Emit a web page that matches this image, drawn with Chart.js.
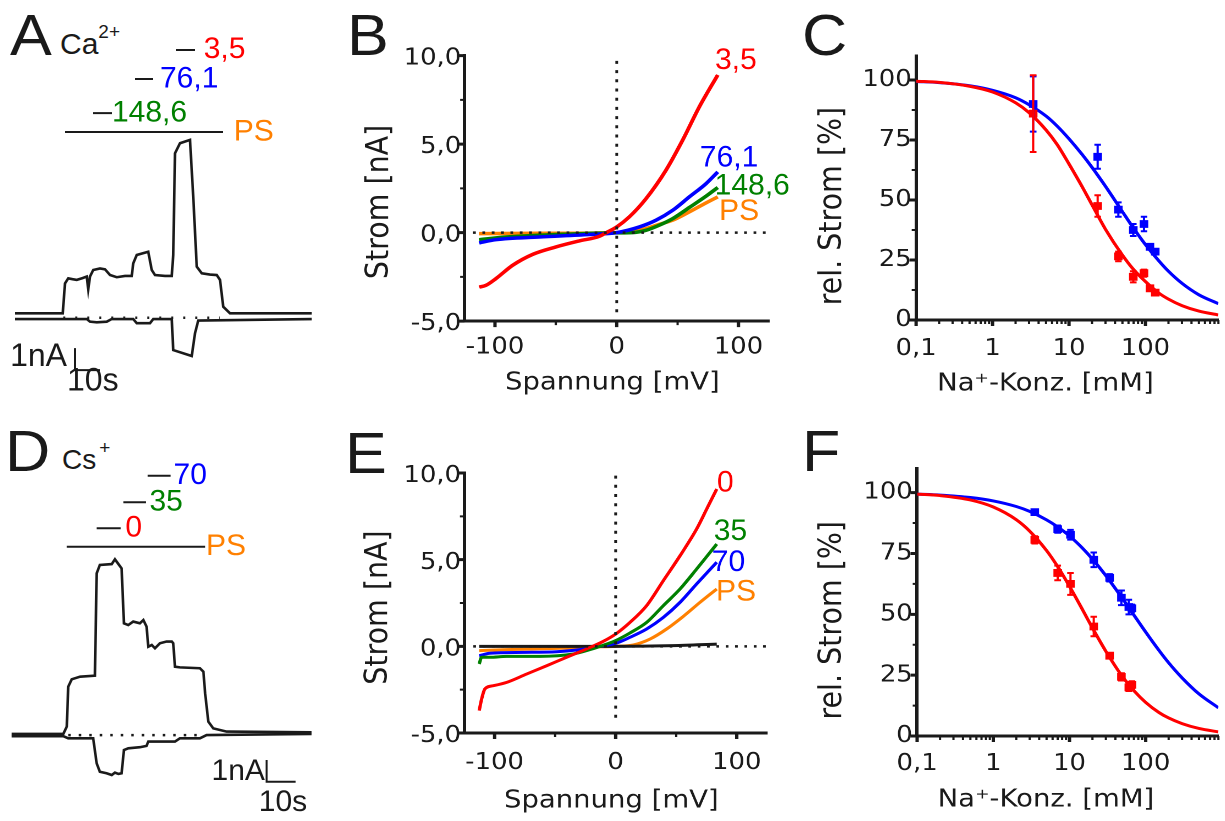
<!DOCTYPE html>
<html lang="de">
<head>
<meta charset="utf-8">
<title>Na+-Block durch Ca2+ und Cs+</title>
<script src="https://cdn.jsdelivr.net/npm/chart.js"></script>
<style>
  body { margin: 0; width: 1225px; height: 821px; background: #fff; position: relative; overflow: hidden;
         font-family: "Liberation Sans", Arial, sans-serif; color: #1a1a1a; }
  .plot { position: absolute; transform-origin: 0 0; }
  .letter { position: absolute; font-size: 57px; line-height: 1; transform: scaleX(1.1); transform-origin: 0 0; }
  .ion { position: absolute; line-height: 1; white-space: nowrap; }
  .ion sup { font-size: 19px; vertical-align: baseline; position: relative; }
</style>
</head>
<body>
<div class="letter" style="left:10px;top:7px">A</div>
<div class="letter" style="left:347px;top:7px">B</div>
<div class="letter" style="left:802px;top:7px">C</div>
<div class="letter" style="left:5px;top:423px">D</div>
<div class="letter" style="left:345px;top:425px">E</div>
<div class="letter" style="left:802px;top:423px">F</div>
<div class="ion" style="left:60px;top:29px;font-size:30px">Ca<sup style="top:-16px">2+</sup></div>
<div class="ion" style="left:62px;top:446px;font-size:28px">Cs<sup style="top:-15px;margin-left:3px">+</sup></div>

<div class="plot" id="pA"></div>
<div class="plot" id="pB"></div>
<div class="plot" id="pC"></div>
<div class="plot" id="pD"></div>
<div class="plot" id="pE"></div>
<div class="plot" id="pF"></div>

<script>
// ---------- A: current trace, Ca2+ (time in s, current in nA) ----------
const caUpT = [0, 19.1, 20, 21.3, 23, 24.7, 27, 28.7, 29.3, 30, 31.3, 34, 36, 38, 40.7, 44, 46.7, 47.3, 48.7, 53.3, 54.7, 56, 60, 62.7, 63.3, 64, 66, 70, 71.3, 72.7, 74.7, 78, 80.7, 82, 83.3, 86, 118.7];
const caUpI = [0, 0, 1.36, 1.59, 1.55, 1.52, 1.6, 1.67, 1.09, 1.67, 1.97, 2.04, 2.0, 1.74, 1.64, 1.7, 1.7, 2.27, 2.65, 2.8, 1.97, 1.74, 1.7, 1.7, 2.65, 7.27, 7.73, 7.88, 5.3, 2.12, 1.82, 1.76, 1.74, 1.52, 0.3, 0, 0];
const caLoT = [0, 19.3, 28.7, 30, 32.7, 36.7, 38.7, 47.3, 48.7, 54, 55.3, 62.7, 63.3, 70.7, 72, 73.3, 118.7];
const caLoI = [-0.26, -0.26, -0.26, -0.38, -0.41, -0.38, -0.26, -0.26, -0.45, -0.45, -0.26, -0.26, -1.67, -1.94, -0.91, -0.33, -0.26];
const caSteps = ['148,6', '76,1', '3,5'];      // Ca2+ concentrations applied
const caStepOn = [31.2, 48, 64.4];
const caStepOff = [38.8, 55.2, 72];
const caPS = [20, 83.2];                        // PS application

// ---------- B: I/V curves, Ca2+ (mV, nA) ----------
const caRedV = [-112.9, -107.4, -99.2, -85.5, -69, -49.9, -30.7, -14.2, -9, 0, 10.4, 24.1, 40.5, 54.2, 67.9, 83];
const caRedI = [-3.08, -2.98, -2.6, -1.85, -1.23, -0.81, -0.47, -0.21, -0.02, 0.32, 0.89, 1.92, 3.53, 5.23, 7.11, 8.91];
const caBlueV = [-112.9, -99.2, -63.6, -22.5, 0, 18.6, 32.3, 46, 59.7, 73.4, 83];
const caBlueI = [-0.58, -0.4, -0.25, -0.11, 0, 0.32, 0.7, 1.26, 2.02, 2.77, 3.43];
const caGreenV = [-112.9, -91, -50, -9, 13, 24, 35, 46, 59.7, 73.4, 83];
const caGreenI = [-0.4, -0.25, -0.11, -0.02, 0, 0.13, 0.42, 0.79, 1.42, 2.06, 2.55];
const caOrangeV = [-112.9, -63.6, 0, 18.6, 35.1, 46, 59.7, 73.4, 83];
const caOrangeI = [-0.06, -0.04, 0, 0.13, 0.47, 0.7, 1.17, 1.68, 2.02];

// ---------- C: dose response, Ca2+ (mM Na+, %) ----------
const caNa = [3.4, 23.7, 44.2, 69.3, 95.6, 114.5, 134.3];
const caRelRed = [86, 47.5, 26.5, 18, 19.5, 13.2, 11.4];
const caErrRed = [16, 4.5, 2, 2.3, 1.5, 1, 1];
const caRelBlue = [90, 68, 46, 37.5, 40, 30.5, 28.5];
const caErrBlue = [11.5, 5, 3, 2.5, 3, 1, 1];
const fitNa = [0.1, 0.2, 0.5, 1, 2, 3, 5, 7, 10, 15, 20, 30, 50, 70, 100, 150, 200, 300, 500, 900];
const caFitRed = [99.5, 99.0, 97.4, 95.0, 90.5, 86.4, 79.2, 73.1, 65.0, 55.3, 48.0, 37.8, 27.0, 21.0, 16.0, 11.2, 8.7, 6.0, 3.7, 2.1];
const caFitBlue = [99.4, 98.9, 97.6, 95.7, 92.6, 89.7, 85.0, 80.8, 75.5, 68.8, 63.6, 55.7, 45.1, 38.2, 31.4, 24.6, 20.3, 15.3, 10.5, 6.8];

// ---------- D: current trace, Cs+ ----------
const csUpT = [0, 17.8, 19.0, 19.5, 20.7, 23.6, 28.7, 29.3, 30.4, 34.5, 35.6, 36.8, 37.9, 38.7, 40.2, 41.9, 44.2, 45.4, 46.5, 47.1, 48.3, 49.4, 51.1, 53.4, 55.2, 55.7, 56.3, 58.0, 64.9, 66.1, 66.7, 67.8, 69.5, 74.1, 103.4];
const csUpI = [0, 0, 0.34, 2.18, 2.52, 2.64, 2.69, 7.4, 7.79, 7.83, 8.05, 7.83, 7.63, 5.1, 5.02, 5.18, 5.1, 5.25, 4.95, 4.02, 4.1, 3.95, 4.18, 4.26, 4.26, 4.18, 3.1, 3.07, 3.03, 2.87, 1.87, 0.57, 0.26, 0.11, 0.08];
const csLoT = [0, 17.8, 19.5, 28.1, 29.3, 30.4, 32.7, 34.5, 35.6, 36.8, 37.9, 38.7, 40.2, 44.2, 46.5, 47.1, 51.1, 56.3, 58.0, 64.9, 67.2, 103.4];
const csLoI = [-0.1, -0.1, -0.2, -0.2, -1.35, -1.74, -1.81, -1.89, -1.78, -1.84, -1.81, -0.74, -0.66, -0.61, -0.55, -0.35, -0.35, -0.35, -0.2, -0.2, -0.05, 0];
const csSteps = ['0', '35', '70'];
const csStepOn = [29.3, 38.5, 46.9];
const csStepOff = [37.6, 46.3, 54.8];
const csPS = [19.0, 66.7];

// ---------- E: I/V curves, Cs+ ----------
const csRedV = [-112.7, -110.7, -108, -101, -90, -73.6, -57, -40.5, -24, -10.2, 0, 11.8, 25.6, 39.4, 53.2, 66.9, 75.2, 83.5];
const csRedI = [-3.71, -3.04, -2.46, -2.27, -2.08, -1.6, -1.12, -0.63, -0.15, 0.29, 0.71, 1.38, 2.35, 3.79, 5.23, 6.77, 7.92, 9.08];
const csGreenV = [-112.7, -110.7, -103.9, -90.1, -62.5, -35, -21.2, -7.4, 0, 11.8, 25.6, 39.4, 53.2, 66.9, 83.5];
const csGreenI = [-1.02, -0.63, -0.63, -0.58, -0.58, -0.44, -0.19, 0.13, 0.33, 0.77, 1.38, 2.35, 3.31, 4.46, 5.9];
const csBlueV = [-112.7, -103.9, -76.3, -48.8, -29.5, -12.9, 0, 11.8, 25.6, 39.4, 53.2, 66.9, 83.5];
const csBlueI = [-0.54, -0.4, -0.35, -0.31, -0.19, 0, 0.17, 0.52, 1.0, 1.67, 2.54, 3.6, 4.85];
const csOrangeV = [-112.7, -90.1, -48.8, -18.5, 0, 14.6, 28.4, 42.1, 55.9, 69.7, 83.5];
const csOrangeI = [-0.25, -0.19, -0.12, -0.04, 0, 0.08, 0.42, 1.0, 1.73, 2.54, 3.31];
const csBlackV = [-112.7, 0, 47.7, 83.5];
const csBlackI = [0, 0, 0.04, 0.13];

// ---------- F: dose response, Cs+ ----------
const csNa = [3.5, 7.0, 10.3, 20.8, 33.6, 48, 60, 66];
const csRelRed = [80.6, 67, 62.5, 45, 33, 24.3, 20, 21];
const csErrRed = [1.5, 3, 4.5, 4, 1, 1.5, 1.5, 1.5];
const csRelBlue = [92, 85, 82.7, 72.4, 65, 56.8, 53, 52.5];
const csErrBlue = [1, 1.5, 2, 3, 1.5, 3, 3, 1.5];
const csFitRed = [99.4, 98.8, 97.0, 94.1, 88.9, 84.2, 76.2, 69.6, 61.5, 51.6, 44.4, 34.8, 24.2, 18.6, 13.8, 9.6, 7.4, 5.1, 3.1, 1.7];
const csFitBlue = [99.4, 99.0, 98.0, 96.6, 94.3, 92.3, 88.8, 85.9, 82.2, 77.0, 72.7, 65.9, 56.3, 49.7, 42.7, 35.1, 30.1, 23.9, 17.3, 11.6];

// ---------- ticks ----------
const ivTicksX = [-100, 0, 100], ivMinorX = [-50, 50];
const ivTicksY = [-5, 0, 5, 10], ivMinorY = [-2.5, 2.5, 7.5];
const doseTicksX = [0.1, 1, 10, 100];
const doseMinorX = [2, 3, 4, 5, 6, 7, 8, 9].flatMap(m => doseTicksX.map(d => +(m * d).toPrecision(2)));
const doseTicksY = [0, 25, 50, 75, 100], doseMinorY = [12.5, 37.5, 62.5, 87.5];

const INK = '#1a1a1a', RED = '#ff0000', BLUE = '#0000ff', GREEN = '#008000', ORANGE = '#ff8000';
const K = 1.1;   // plots B, C, E, F are drawn narrower and widened by this factor
const AXIS_FONT = '"DejaVu Sans", sans-serif';
const LABEL_FONT = '"Liberation Sans", Arial, sans-serif';
Chart.defaults.font.family = AXIS_FONT;
Chart.defaults.color = INK;

const pts = (xs, ys) => xs.map((x, i) => ({x, y: ys[i]}));
const line = (xs, ys, color, width, extra) => Object.assign({
  data: pts(xs, ys), showLine: true, borderColor: color, backgroundColor: color,
  borderWidth: width, pointRadius: 0, fill: false
}, extra || {});
const dots = (xs, ys, color) => ({
  data: pts(xs, ys), showLine: false, pointStyle: 'rect', pointRadius: 5.5,
  pointBorderWidth: 0, backgroundColor: color, borderColor: color
});

// text at data coordinates (squeeze undoes the widening of the host)
const tags = {
  id: 'tags',
  afterDatasetsDraw(chart, args, o) {
    if (!o.items) return;
    const {ctx, scales: {x, y}} = chart;
    o.items.forEach(t => {
      ctx.save();
      ctx.translate(x.getPixelForValue(t.x), y.getPixelForValue(t.y));
      ctx.scale(1 / (o.squeeze || 1), 1);
      ctx.font = (t.size || 30) + 'px ' + LABEL_FONT;
      ctx.fillStyle = t.color || INK;
      ctx.textAlign = t.align || 'left';
      ctx.textBaseline = 'middle';
      ctx.fillText(t.text, 0, 0);
      ctx.restore();
    });
  }
};

const errorBars = {
  id: 'errorBars',
  afterDatasetsDraw(chart) {
    const {ctx, scales: {x, y}} = chart;
    chart.data.datasets.forEach(ds => {
      if (!ds.errors) return;
      ctx.save();
      ctx.strokeStyle = ds.borderColor;
      ctx.lineWidth = 2;
      ctx.beginPath();
      ds.data.forEach((p, i) => {
        const px = x.getPixelForValue(p.x);
        const top = y.getPixelForValue(p.y + ds.errors[i]), bot = y.getPixelForValue(p.y - ds.errors[i]);
        ctx.moveTo(px, top); ctx.lineTo(px, bot);
        ctx.moveTo(px - 3, top); ctx.lineTo(px + 3, top);
        ctx.moveTo(px - 3, bot); ctx.lineTo(px + 3, bot);
      });
      ctx.stroke();
      ctx.restore();
    });
  }
};

const tickMarks = {
  id: 'tickMarks',
  afterDraw(chart, args, o) {
    if (!o.x) return;
    const {ctx, chartArea: a, scales: {x, y}} = chart;
    ctx.save();
    ctx.strokeStyle = INK;
    const mark = (vals, len, w, horiz) => {
      ctx.lineWidth = w;
      ctx.beginPath();
      vals.forEach(v => {
        if (horiz) { const p = x.getPixelForValue(v); ctx.moveTo(p, a.bottom); ctx.lineTo(p, a.bottom + len); }
        else { const p = y.getPixelForValue(v); ctx.moveTo(a.left, p); ctx.lineTo(a.left - len, p); }
      });
      ctx.stroke();
    };
    mark(o.x[0], 6, 3, true); mark(o.x[1], 4, 2, true);
    mark(o.y[0], 6, 3, false); mark(o.y[1], 4, 2, false);
    ctx.restore();
  }
};
Chart.register(tags, errorBars, tickMarks);

// box = canvas, area = plot area; both in page pixels
function host(id, box, stretch) {
  const div = document.getElementById(id);
  const w = Math.round((box.r - box.l) / stretch), h = Math.round(box.b - box.t);
  Object.assign(div.style, {left: box.l + 'px', top: box.t + 'px', width: w + 'px', height: h + 'px',
    transform: 'scaleX(' + stretch + ')'});
  const cv = document.createElement('canvas');
  cv.width = w; cv.height = h;
  div.appendChild(cv);
  return cv;
}

const base = {responsive: false, animation: false, events: [], devicePixelRatio: 2};

function framed(id, box, area, ax, datasets, extraPlugins) {
  const tickFont = {family: AXIS_FONT, size: 23.5};
  new Chart(host(id, box, K), {
    type: 'scatter',
    data: {datasets},
    options: Object.assign({}, base, {
      layout: {padding: {left: 0, bottom: 0, top: area.t - box.t, right: (box.r - area.r) / K}},
      scales: {
        x: {
          type: ax.xType, min: ax.xMin, max: ax.xMax,
          border: {display: true, color: INK, width: 3},
          grid: {display: false, drawTicks: false},
          afterBuildTicks: s => { s.ticks = ax.xTicks.map(v => ({value: v})); },
          afterFit: s => { s.height = box.b - area.b; },
          ticks: {font: tickFont, color: INK, padding: ax.xPad, maxRotation: 0, autoSkip: false, callback: ax.xFmt},
          title: {display: true, text: ax.xTitle, font: {family: AXIS_FONT, size: 25}, color: INK, padding: 0}
        },
        y: {
          type: 'linear', min: ax.yMin, max: ax.yMax,
          border: {display: true, color: INK, width: 3},
          grid: {display: false, drawTicks: false},
          afterBuildTicks: s => { s.ticks = ax.yTicks.map(v => ({value: v})); },
          afterFit: s => { s.width = (area.l - box.l) / K; },
          ticks: {font: tickFont, color: INK, padding: ax.yPad, labelOffset: ax.yOff, autoSkip: false, callback: ax.yFmt},
          title: {display: true, text: ax.yTitle, font: {family: AXIS_FONT, size: 28.5}, color: INK, padding: 0}
        }
      },
      plugins: Object.assign({legend: {display: false}, tooltip: {enabled: false},
        tickMarks: {x: [ax.xTicks, ax.xMinor], y: [ax.yTicks, ax.yMinor]}}, extraPlugins || {})
    })
  });
}

function trace(id, box, xr, yr, datasets, items) {
  new Chart(host(id, box, 1), {
    type: 'scatter',
    data: {datasets},
    options: Object.assign({}, base, {
      layout: {padding: 0},
      scales: {x: {type: 'linear', display: false, min: xr[0], max: xr[1]},
               y: {type: 'linear', display: false, min: yr[0], max: yr[1]}},
      plugins: {legend: {display: false}, tooltip: {enabled: false}, tags: {items}}
    })
  });
}

const comma = v => String(v).replace('.', ',');
const ivAxes = (yPad, xPad) => ({
  xType: 'linear', xMin: -125, xMax: 125, xTicks: ivTicksX, xMinor: ivMinorX, xPad, xFmt: v => String(v),
  xTitle: 'Spannung [mV] ',
  yMin: -5, yMax: 10, yTicks: ivTicksY, yMinor: ivMinorY, yPad, yOff: 3, yFmt: v => v.toFixed(1).replace('.', ',')
});
const doseAxes = (xPad, xTitle, yTitle) => ({
  xType: 'logarithmic', xMin: 0.1, xMax: 900, xTicks: doseTicksX, xMinor: doseMinorX, xPad, xFmt: comma,
  xTitle, yMin: 0, yMax: 110, yTicks: doseTicksY, yMinor: doseMinorY, yPad: 4, yOff: 0, yFmt: v => String(v),
  yTitle
});

// ---- A ----
const barA = (t0, t1, lvl, w) => line([t0, t1], [lvl, lvl], INK, w);
trace('pA', {l: 0, t: 0, r: 320, b: 400}, [-6, 122], [-3.94, 14.24], [
  barA(caPS[0], caPS[1], 8.24, 2),
  barA(caStepOn[0], caStepOff[0], 9.1, 2),
  barA(caStepOn[1], caStepOff[1], 10.65, 2),
  barA(caStepOn[2], caStepOff[2], 11.97, 2),
  line(caUpT, caUpI, INK, 2.6),
  line(caLoT, caLoI, INK, 2.6),
  line([19.3, 82], [-0.2, -0.2], INK, 2.5, {borderDash: [2, 10]}),
  line([24, 24, 34], [-1.58, -2.58, -2.58], INK, 2)
], [
  {text: caSteps[0], x: 38.8, y: 9.1, color: GREEN},
  {text: caSteps[1], x: 58, y: 10.65, color: BLUE},
  {text: caSteps[2], x: 75.5, y: 11.97, color: RED},
  {text: 'PS', x: 87.5, y: 8.24, color: ORANGE},
  {text: '1nA', x: 20.8, y: -1.99, size: 32, align: 'right'},
  {text: '10s', x: 20.8, y: -3.11, size: 32}
]);

// ---- D ----
trace('pD', {l: 0, t: 410, r: 320, b: 821}, [-4.03, 106.3], [-4.01, 14.93], [
  barA(csPS[0], csPS[1], 8.63, 2),
  barA(csStepOn[0], csStepOff[0], 9.48, 2),
  barA(csStepOn[1], csStepOff[1], 10.68, 2),
  barA(csStepOn[2], csStepOff[2], 11.9, 2),
  line(csUpT, csUpI, INK, 2.6),
  line(csLoT, csLoI, INK, 2.6),
  line([19.5, 64.9], [-0.05, -0.05], INK, 2.5, {borderDash: [2.5, 8]}),
  line([87.9, 87.9, 97.9], [-1.2, -2.2, -2.2], INK, 2)
], [
  {text: csSteps[0], x: 39.2, y: 9.48, color: RED},
  {text: csSteps[1], x: 47.5, y: 10.68, color: GREEN},
  {text: csSteps[2], x: 55.8, y: 11.9, color: BLUE},
  {text: 'PS', x: 67.0, y: 8.63, color: ORANGE},
  {text: '1nA', x: 87.3, y: -1.74, align: 'right'},
  {text: '10s', x: 85.2, y: -3.16}
]);

// ---- B ----
const mono = {cubicInterpolationMode: 'monotone'};
framed('pB', {l: 361.2, t: 25, r: 800, b: 397.5}, {l: 464.7, t: 55.6, r: 769, b: 320.6},
  Object.assign(ivAxes(3, 12), {yTitle: 'Strom [nA]   '}), [
    line([-118, 125], [0, 0], INK, 2.5, {borderDash: [2.5, 6]}),
    line([0, 0], [9.7, -4.6], INK, 2.5, {borderDash: [3, 6.2]}),
    line(caRedV, caRedI, RED, 3.5, mono),
    line(caBlueV, caBlueI, BLUE, 3.5, mono),
    line(caGreenV, caGreenI, GREEN, 3.5, mono),
    line(caOrangeV, caOrangeI, ORANGE, 3.5, mono)
  ], {tags: {squeeze: K, items: [
    {text: caSteps[2], x: 80.8, y: 9.7, color: RED},
    {text: caSteps[1], x: 68.3, y: 4.2, color: BLUE},
    {text: caSteps[0], x: 80.5, y: 2.62, color: GREEN},
    {text: 'PS', x: 84.1, y: 1.17, color: ORANGE}
  ]}});

// ---- E ----
framed('pE', {l: 360.2, t: 440, r: 800, b: 816}, {l: 464.5, t: 473, r: 767, b: 733},
  Object.assign(ivAxes(3, 16), {yTitle: 'Strom [nA] '}), [
    line([-117.6, 125], [0, 0], INK, 2.5, {borderDash: [2.5, 6]}),
    line([0, 0], [9.85, -4.48], INK, 2.5, {borderDash: [3, 6.2]}),
    line(csRedV, csRedI, RED, 3, mono),
    line(csGreenV, csGreenI, GREEN, 3, mono),
    line(csBlueV, csBlueI, BLUE, 3, mono),
    line(csBlackV, csBlackI, INK, 3, mono),
    line(csOrangeV, csOrangeI, ORANGE, 3, mono)
  ], {tags: {squeeze: K, items: [
    {text: csSteps[0], x: 83.7, y: 9.4, color: RED},
    {text: csSteps[1], x: 81, y: 6.6, color: GREEN},
    {text: csSteps[2], x: 79.4, y: 4.83, color: BLUE},
    {text: 'PS', x: 82.9, y: 3.13, color: ORANGE}
  ]}});

// ---- C ----
framed('pC', {l: 813.9, t: 25, r: 1225, b: 399}, {l: 916, t: 56, r: 1218, b: 320},
  doseAxes(15, 'Na\u207A-Konz. [mM]     ', 'rel. Strom [%]    '), [
    Object.assign(dots(caNa, caRelBlue, BLUE), {errors: caErrBlue}),
    Object.assign(dots(caNa, caRelRed, RED), {errors: caErrRed}),
    line(fitNa, caFitRed, RED, 3, mono),
    line(fitNa, caFitBlue, BLUE, 3, mono)
  ]);

// ---- F ----
framed('pF', {l: 813.9, t: 440, r: 1225, b: 815}, {l: 917, t: 468.3, r: 1218, b: 736},
  doseAxes(14, 'Na\u207A-Konz. [mM]     ', 'rel. Strom [%]    '), [
    Object.assign(dots(csNa, csRelBlue, BLUE), {errors: csErrBlue}),
    Object.assign(dots(csNa, csRelRed, RED), {errors: csErrRed}),
    line(fitNa, csFitRed, RED, 3, mono),
    line(fitNa, csFitBlue, BLUE, 3, mono)
  ]);
</script>
</body>
</html>
